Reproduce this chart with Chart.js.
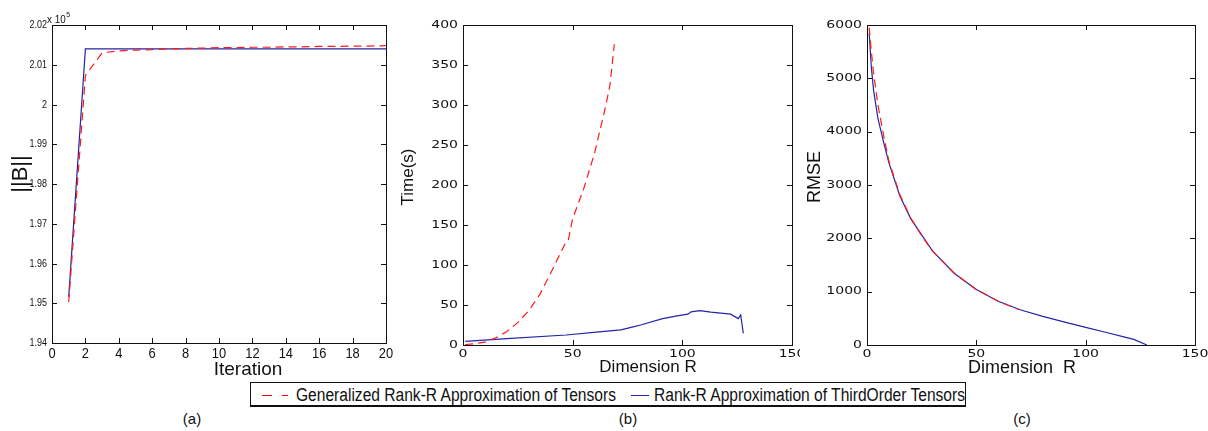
<!DOCTYPE html>
<html>
<head>
<meta charset="utf-8">
<script src="https://cdn.jsdelivr.net/npm/chart.js@4.4.1/dist/chart.umd.min.js"></script>
<style>
  body { margin: 0; background: #fff; width: 1208px; height: 431px; position: relative; overflow: hidden;
         font-family: 'Liberation Sans', Arial, sans-serif; color: #111; }
  canvas { position: absolute; top: 0; }
  #legend { position: absolute; left: 250px; top: 382px; width: 716px; height: 25px; box-sizing: border-box;
            border: 1px solid #111; border-bottom-width: 2px; background: #fff; }
  #legend span { position: absolute; top: 2px; font-size: 18px; line-height: 20px; white-space: nowrap;
                 transform: scaleX(0.865); transform-origin: 0 50%; }
  .sample { position: absolute; top: 12px; height: 1px; }
  .cap { position: absolute; top: 410px; font-size: 15px; width: 40px; text-align: center; }
</style>
</head>
<body>
<canvas id="chartA" width="400" height="380" style="left:0"></canvas>
<canvas id="chartB" width="400" height="380" style="left:400px"></canvas>
<canvas id="chartC" width="408" height="380" style="left:800px"></canvas>

<div id="legend">
  <div class="sample" style="left:11px;width:26px;background:linear-gradient(to right,#ff0000 0 10px,transparent 10px 20px,#ff0000 20px 26px)"></div>
  <span style="left:45px">Generalized Rank-R Approximation of Tensors</span>
  <div class="sample" style="left:380px;width:18px;background:#2424a8"></div>
  <span style="left:403px">Rank-R Approximation of ThirdOrder Tensors</span>
</div>
<div class="cap" style="left:172px">(a)</div>
<div class="cap" style="left:608px">(b)</div>
<div class="cap" style="left:1002px">(c)</div>

<script>
// (a) norm of B per iteration, in units of 1e5
const iterations = [1, 2, 3, 4, 5, 6, 7, 8, 9, 10, 11, 12, 13, 14, 15, 16, 17, 18, 19, 20];
const normGeneralized = [1.9503, 2.0073, 2.0130, 2.0135, 2.0137, 2.0138, 2.0140, 2.0141, 2.0142, 2.0143,
                         2.0143, 2.0144, 2.0144, 2.0145, 2.0145, 2.0146, 2.0146, 2.0147, 2.0147, 2.0148];
const normThirdOrder = [1.9516, 2.0140, 2.0140, 2.0140, 2.0140, 2.0140, 2.0140, 2.0140, 2.0140, 2.0140,
                        2.0140, 2.0140, 2.0140, 2.0140, 2.0140, 2.0140, 2.0140, 2.0140, 2.0140, 2.0140];

// (b) running time vs dimension R
const dimTimeGeneralized = [1, 5, 10, 15, 20, 25, 30, 35, 40, 45, 47, 48, 50, 55, 60, 65, 67, 69];
const timeGeneralized = [0.5, 1.5, 3.5, 9, 17, 28, 43, 63, 90, 118, 129, 131, 158, 195, 240, 298, 325, 376];
const dimTimeThirdOrder = [1, 20, 47, 62, 72, 78, 81, 91, 97, 102.5, 104, 108, 113, 122, 125.5, 126.6, 127.8];
const timeThirdOrder = [4.5, 8, 12.5, 16.5, 19, 23, 25, 33, 36, 38.5, 41.5, 43, 41, 38.5, 33, 37.5, 14.5];

// (c) RMSE vs dimension R
const dimRmseGeneralized = [1, 2, 3, 5, 7.5, 10, 15, 20, 25, 30, 40, 50, 60, 69];
const rmseGeneralized = [5950, 5500, 5100, 4500, 3950, 3450, 2820, 2380, 2050, 1760, 1340, 1040, 820, 670];
const dimRmseThirdOrder = [1, 2, 3, 5, 7.5, 10, 15, 20, 30, 40, 50, 60, 70, 80, 90, 100, 110, 117, 122, 128];
const rmseThirdOrder = [5850, 5200, 4780, 4250, 3820, 3420, 2800, 2370, 1760, 1340, 1040, 820, 660, 540, 435, 332, 230, 158, 105, 0];

const RED = '#ff1a1a';
const BLUE = '#2424a8';
const INK = '#111';

const pairs = (xs, ys) => xs.map((x, i) => ({ x: x, y: ys[i] }));

function stretchText(ctx, text, x, y, sx) {
  ctx.save();
  ctx.translate(x, y);
  ctx.scale(sx, 1);
  ctx.fillText(text, 0, 0);
  ctx.restore();
}

// matlab style box: inward ticks on all four sides, stretched tick labels, axis titles
const matlabAxes = {
  id: 'matlabAxes',
  afterDraw(chart, args, o) {
    const { ctx, chartArea: a, scales } = chart;
    const xs = scales.x, ys = scales.y;
    ctx.save();
    ctx.strokeStyle = INK;
    ctx.fillStyle = INK;
    ctx.lineWidth = 1;
    ctx.strokeRect(Math.round(a.left) + 0.5, Math.round(a.top) + 0.5, Math.round(a.width), Math.round(a.height));
    ctx.beginPath();
    const len = 5;
    xs.ticks.forEach(t => {
      const px = Math.round(xs.getPixelForValue(t.value)) + 0.5;
      ctx.moveTo(px, a.bottom); ctx.lineTo(px, a.bottom - len);
      ctx.moveTo(px, a.top); ctx.lineTo(px, a.top + len);
    });
    ys.ticks.forEach(t => {
      const py = Math.round(ys.getPixelForValue(t.value)) + 0.5;
      ctx.moveTo(a.left, py); ctx.lineTo(a.left + len, py);
      ctx.moveTo(a.right, py); ctx.lineTo(a.right - len, py);
    });
    ctx.stroke();

    // tick labels
    const fmt = o.yFormat || (v => String(v));
    ctx.textBaseline = 'middle';
    ctx.textAlign = 'center';
    ctx.font = o.xTick.font;
    xs.ticks.forEach(t => stretchText(ctx, String(t.value), xs.getPixelForValue(t.value), o.xTick.y, o.xTick.sx));
    ctx.textAlign = 'right';
    ctx.font = o.yTick.font;
    ys.ticks.forEach(t => stretchText(ctx, fmt(t.value), a.left - o.yTick.gap, ys.getPixelForValue(t.value), o.yTick.sx));

    // axis titles
    ctx.textAlign = 'center';
    ctx.textBaseline = 'alphabetic';
    ctx.font = o.xTitle.size + 'px "Liberation Sans", Arial, sans-serif';
    ctx.fillText(o.xTitle.text, o.xTitle.x, o.xTitle.y);
    ctx.save();
    ctx.translate(o.yTitle.x, o.yTitle.y);
    ctx.rotate(-Math.PI / 2);
    ctx.textBaseline = 'middle';
    ctx.font = o.yTitle.size + 'px "Liberation Sans", Arial, sans-serif';
    ctx.fillText(o.yTitle.text, 0, 0);
    ctx.restore();

    if (o.exponent) {
      ctx.textAlign = 'left';
      ctx.font = '11px "Liberation Sans", sans-serif';
      const x0 = a.left - 5;
      stretchText(ctx, 'x 10', x0, a.top - 2, 0.9);
      const w = ctx.measureText('x 10').width * 0.9;
      ctx.font = '7px "Liberation Sans", sans-serif';
      ctx.fillText('5', x0 + w + 0.5, a.top - 8);
    }
    ctx.restore();
  }
};

function makeChart(id, cfg) {
  return new Chart(document.getElementById(id), {
    type: 'line',
    data: {
      datasets: [
        { label: 'Generalized Rank-R Approximation of Tensors', data: cfg.red,
          borderColor: RED, borderWidth: 1.2, borderDash: [8, 5], pointRadius: 0, tension: 0, fill: false },
        { label: 'Rank-R Approximation of ThirdOrder Tensors', data: cfg.blue,
          borderColor: BLUE, borderWidth: 1.2, pointRadius: 0, tension: 0, fill: false }
      ]
    },
    plugins: [matlabAxes],
    options: {
      responsive: false,
      animation: false,
      layout: { padding: { top: 25, right: cfg.padRight, left: 0, bottom: 0 } },
      plugins: {
        legend: { display: false },
        tooltip: { enabled: false },
        matlabAxes: cfg.axes
      },
      scales: {
        x: {
          type: 'linear', min: cfg.xMin, max: cfg.xMax,
          grid: { display: false, drawTicks: false }, border: { display: false },
          ticks: { stepSize: cfg.xStep, autoSkip: false, display: false },
          afterFit: s => { s.height = cfg.xHeight; }
        },
        y: {
          type: 'linear', min: cfg.yMin, max: cfg.yMax,
          grid: { display: false, drawTicks: false }, border: { display: false },
          ticks: { stepSize: cfg.yStep, autoSkip: false, display: false },
          afterFit: s => { s.width = cfg.yWidth; }
        }
      }
    }
  });
}

const wideTick = '10px "DejaVu Sans", sans-serif';

makeChart('chartA', {
  red: pairs(iterations, normGeneralized), blue: pairs(iterations, normThirdOrder),
  xMin: 0, xMax: 20, xStep: 2, yMin: 1.94, yMax: 2.02, yStep: 0.01,
  yWidth: 52, xHeight: 37, padRight: 14,
  axes: {
    yFormat: v => String(Number(v.toFixed(2))),
    xTick: { font: '14px "Liberation Sans", sans-serif', sx: 0.92, y: 354 },
    yTick: { font: '11.5px "Liberation Sans", sans-serif', sx: 0.78, gap: 5 },
    xTitle: { text: 'Iteration', size: 19, x: 248, y: 375 },
    yTitle: { text: '||B||', size: 22, x: 21, y: 174 },
    exponent: true
  }
});

makeChart('chartB', {
  red: pairs(dimTimeGeneralized, timeGeneralized), blue: pairs(dimTimeThirdOrder, timeThirdOrder),
  xMin: 0, xMax: 150, xStep: 50, yMin: 0, yMax: 400, yStep: 50,
  yWidth: 63, xHeight: 35, padRight: 8,
  axes: {
    xTick: { font: wideTick, sx: 1.4, y: 354 },
    yTick: { font: wideTick, sx: 1.4, gap: 5 },
    xTitle: { text: 'Dimension R', size: 17, x: 248, y: 372 },
    yTitle: { text: 'Time(s)', size: 17, x: 8.5, y: 177 },
    exponent: false
  }
});

makeChart('chartC', {
  red: pairs(dimRmseGeneralized, rmseGeneralized), blue: pairs(dimRmseThirdOrder, rmseThirdOrder),
  xMin: 0, xMax: 150, xStep: 50, yMin: 0, yMax: 6000, yStep: 1000,
  yWidth: 67, xHeight: 35, padRight: 13,
  axes: {
    xTick: { font: wideTick, sx: 1.4, y: 354 },
    yTick: { font: wideTick, sx: 1.4, gap: 5 },
    xTitle: { text: 'Dimension  R', size: 18, x: 222, y: 373 },
    yTitle: { text: 'RMSE', size: 18, x: 15, y: 177 },
    exponent: false
  }
});
</script>
</body>
</html>
